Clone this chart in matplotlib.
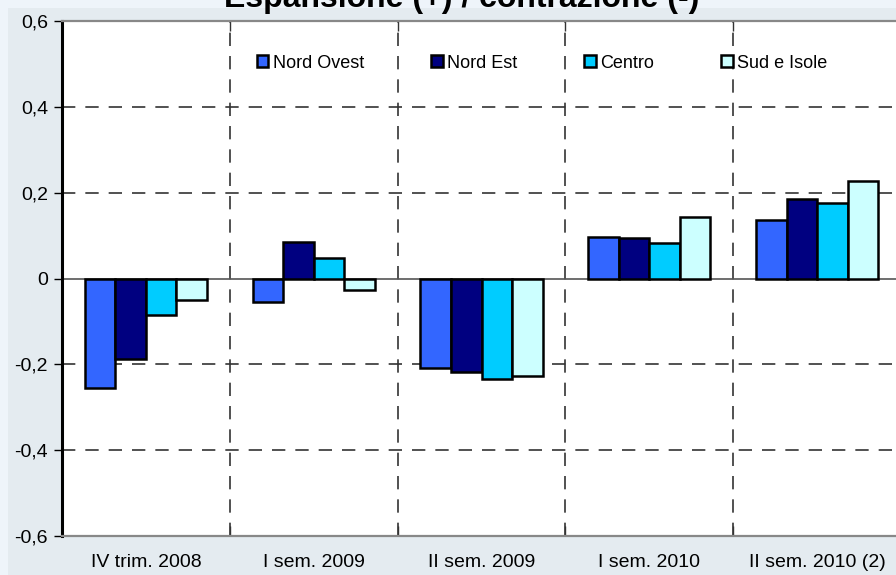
import matplotlib.pyplot as plt
import numpy as np
from matplotlib.patches import Rectangle

plt.rcParams['font.family'] = ['Liberation Sans', 'DejaVu Sans']

categories = ['IV trim. 2008', 'I sem. 2009', 'II sem. 2009', 'I sem. 2010', 'II sem. 2010 (2)']
regions = ['Nord Ovest', 'Nord Est', 'Centro', 'Sud e Isole']
nord_ovest = [-0.255, -0.055, -0.209, 0.097, 0.136]
nord_est = [-0.188, 0.085, -0.217, 0.094, 0.185]
centro = [-0.085, 0.048, -0.234, 0.083, 0.175]
sud_isole = [-0.050, -0.027, -0.227, 0.144, 0.227]
colors = ['#3366ff', '#000080', '#00ccff', '#ccffff']

series = [nord_ovest, nord_est, centro, sud_isole]

fig = plt.figure(figsize=(8.96, 5.75), dpi=100, facecolor='#eef4fa')
# slightly darker panel behind the chart
fig.patches.append(Rectangle((8 / 896, 0), 1, 1 - 8 / 575, transform=fig.transFigure,
                             facecolor='#e4ebf0', edgecolor='none', zorder=-1))

ax = fig.add_axes([62 / 896, 39 / 575, 839 / 896, 515 / 575])
ax.set_facecolor('white')

x = np.arange(len(categories))
w = 0.182
for i, (vals, col, name) in enumerate(zip(series, colors, regions)):
    ax.bar(x + (i - 1.5) * w, vals, w, color=col, edgecolor='black',
           linewidth=1.8, label=name, zorder=3)

ax.set_xlim(-0.5, len(categories) - 0.5)
ax.set_ylim(-0.6, 0.6)
ax.set_yticks([-0.6, -0.4, -0.2, 0, 0.2, 0.4, 0.6])
ax.set_yticklabels(['-0,6', '-0,4', '-0,2', '0', '0,2', '0,4', '0,6'], fontsize=14)
ax.set_xticks(x)
ax.set_xticklabels(categories, fontsize=14)
ax.set_xticks(x[:-1] + 0.5, minor=True)
ax.tick_params(axis='x', which='major', length=0, pad=13)
ax.tick_params(axis='x', which='minor', direction='in', length=7, top=True,
               color='#333333', width=1)
ax.tick_params(axis='y', direction='out', length=6, width=1, pad=4)

for yv in [-0.4, -0.2, 0.2, 0.4]:
    ax.axhline(yv, color='#333333', linewidth=1.2, dashes=(8, 6), zorder=1)
for xv in x[:-1] + 0.5:
    ax.axvline(xv, color='#333333', linewidth=1.2, dashes=(8, 6), zorder=1)
ax.axhline(0, color='#555555', linewidth=1.2, zorder=2)

ax.spines['left'].set_linewidth(2.2)
ax.spines['left'].set_color('black')
for s in ['top', 'bottom']:
    ax.spines[s].set_color('#888888')
    ax.spines[s].set_linewidth(1.6)
ax.spines['right'].set_visible(False)

ax.legend(loc='center left', bbox_to_anchor=(0.232, 0.918), ncol=4, frameon=False,
          fontsize=13, handlelength=0.65, handleheight=0.65, handletextpad=0.25,
          columnspacing=3.7, borderaxespad=0, borderpad=0)

fig.text(462 / 896, 1 - 7.5 / 575, 'Espansione (+) / contrazione (-)', ha='center',
         va='baseline', fontsize=23, fontweight='bold')

fig.savefig('out.png', dpi=100, facecolor=fig.get_facecolor())
